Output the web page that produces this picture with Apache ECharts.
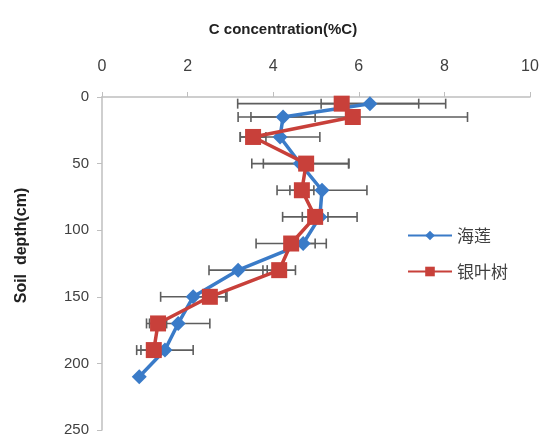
<!DOCTYPE html>
<html>
<head>
<meta charset="utf-8">
<script src="https://cdn.jsdelivr.net/npm/echarts@6/dist/echarts.min.js"></script>
<style>html,body{margin:0;padding:0;background:#fff}#c{width:544px;height:440px}</style>
</head>
<body>
<div id="c"></div>
<script>
var xTicks = [0, 2, 4, 6, 8, 10];
var yTicks = [0, 50, 100, 150, 200, 250];
var seriesNames = ['海莲', '银叶树'];
var depthBlue = [5, 15, 30, 50, 70, 90, 110, 130, 150, 170, 190, 210];
var cBlue = [6.26, 4.23, 4.16, 4.63, 5.14, 5.09, 4.70, 3.18, 2.13, 1.78, 1.47, 0.87];
var errBlue = [1.14, 0.75, 0.93, 1.13, 1.05, 0.87, 0.28, 0.68, 0.76, 0.74, 0.66, 0];
var depthRed = [5, 15, 30, 50, 70, 90, 110, 130, 150, 170, 190];
var cRed = [5.60, 5.86, 3.53, 4.77, 4.67, 4.98, 4.42, 4.14, 2.52, 1.31, 1.21];
var errRed = [2.43, 2.68, 0.30, 1.00, 0.28, 0.30, 0.82, 0.38, 0.40, 0.20, 0.30];

var blueColor = '#3a7bc8';
var redColor = '#c8403a';
var font = 'Liberation Sans, Noto Sans, sans-serif';

function pairs(xs, ys) { return xs.map(function (v, i) { return [v, ys[i]]; }); }
function errData(xs, ys, es) {
  var out = [];
  xs.forEach(function (v, i) { if (es[i] > 0) out.push([v - es[i], v + es[i], ys[i]]); });
  return out;
}
function errRender(params, api) {
  var p1 = api.coord([api.value(0), api.value(2)]);
  var p2 = api.coord([api.value(1), api.value(2)]);
  var h = 5;
  var st = { stroke: '#5e5e5e', lineWidth: 1.6 };
  return {
    type: 'group',
    children: [
      { type: 'line', shape: { x1: p1[0], y1: p1[1], x2: p2[0], y2: p2[1] }, style: st },
      { type: 'line', shape: { x1: p1[0], y1: p1[1] - h, x2: p1[0], y2: p1[1] + h }, style: st },
      { type: 'line', shape: { x1: p2[0], y1: p2[1] - h, x2: p2[0], y2: p2[1] + h }, style: st }
    ]
  };
}

var chart = echarts.init(document.getElementById('c'));
chart.setOption({
  animation: false,
  backgroundColor: '#fff',
  grid: { left: 102, right: 14, top: 97, bottom: 10 },
  legend: {
    orient: 'vertical',
    left: 402, top: 222,
    itemWidth: 44, itemHeight: 12, itemGap: 19,
    data: seriesNames,
    textStyle: { fontSize: 17, color: '#404040', fontFamily: 'Noto Sans CJK SC' }
  },
  xAxis: {
    type: 'value', position: 'top', min: 0, max: 10, interval: 2,
    name: 'C concentration(%C)', nameLocation: 'middle', nameGap: 60,
    nameTextStyle: { fontSize: 15, fontWeight: 'bold', color: '#222', fontFamily: font, padding: [0, 66, 0, 0] },
    axisLine: { show: true, lineStyle: { color: '#bfbfbf', width: 1.5 } },
    axisTick: { show: true, length: 5, lineStyle: { color: '#bfbfbf' } },
    axisLabel: { fontSize: 16, color: '#404040', fontFamily: font, margin: 22,
      formatter: function (v) { return xTicks.indexOf(v) >= 0 ? String(v) : ''; } },
    splitLine: { show: false }
  },
  yAxis: {
    type: 'value', inverse: true, min: 0, max: 250, interval: 50,
    name: 'Soil  depth(cm)', nameLocation: 'middle', nameGap: 72, nameRotate: 90,
    nameTextStyle: { fontSize: 16, fontWeight: 'bold', color: '#222', fontFamily: font, padding: [0, 0, 0, 36] },
    axisLine: { show: true, lineStyle: { color: '#bfbfbf', width: 1.5 } },
    axisTick: { show: true, length: 5, lineStyle: { color: '#bfbfbf' } },
    axisLabel: { fontSize: 15, color: '#404040', fontFamily: font, margin: 13,
      formatter: function (v) { return yTicks.indexOf(v) >= 0 ? String(v) : ''; } },
    splitLine: { show: false }
  },
  series: [
    { type: 'custom', renderItem: errRender, data: errData(cBlue, depthBlue, errBlue), z: 1, silent: true },
    { type: 'custom', renderItem: errRender, data: errData(cRed, depthRed, errRed), z: 1, silent: true },
    {
      name: seriesNames[0], type: 'line', data: pairs(cBlue, depthBlue), z: 3,
      symbol: 'diamond', symbolSize: 15,
      lineStyle: { color: blueColor, width: 3.5 },
      itemStyle: { color: blueColor }
    },
    {
      name: seriesNames[1], type: 'line', data: pairs(cRed, depthRed), z: 4,
      symbol: 'rect', symbolSize: 16,
      lineStyle: { color: redColor, width: 3.5 },
      itemStyle: { color: redColor }
    }
  ]
});
</script>
</body>
</html>
